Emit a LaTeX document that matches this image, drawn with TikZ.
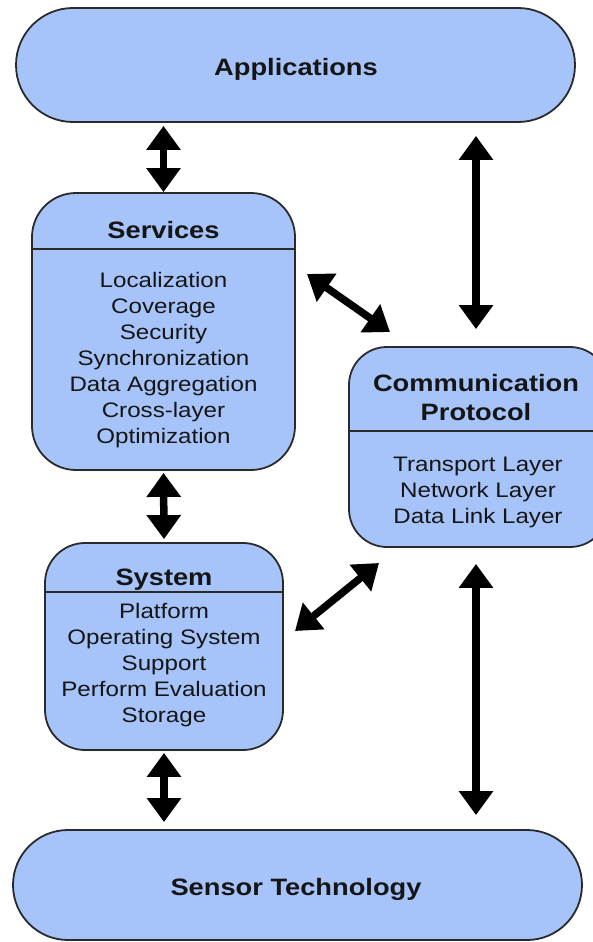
\documentclass[tikz,border=0pt]{standalone}
\usepackage{fontspec}
\setmainfont{Liberation Sans}[FakeStretch=1.15]
\usetikzlibrary{arrows.meta}
\definecolor{boxfill}{HTML}{A6C4FA}
\definecolor{boxline}{HTML}{2A2A2A}
\definecolor{txt}{HTML}{151515}
\tikzset{
  box/.style={draw=boxline, line width=1.8pt, fill=boxfill, inner sep=0pt},
  ttl/.style={anchor=base, inner sep=0pt, text=txt, align=center,
    font=\bfseries\fontsize{23.7}{29}\selectfont},
  itm/.style={anchor=base, inner sep=0pt, text=txt, align=center,
    font=\fontsize{21}{26}\selectfont},
  divider/.style={draw=boxline, line width=1.6pt},
  dbl/.style={line width=7.5pt, draw=black,
    {Triangle[width=33pt,length=24pt]}-{Triangle[width=33pt,length=24pt]}}
}
\begin{document}
\begin{tikzpicture}[x=1pt,y=-1pt]
\useasboundingbox (0,0) rectangle (593,942);
\clip (0,0) rectangle (593,942);
% boxes
\node[box, rounded corners=57pt, minimum width=559pt, minimum height=114pt] (app) at (295.5,65) {};
\node[box, rounded corners=44pt, minimum width=263pt, minimum height=277pt] (svc) at (163.5,331.5) {};
\node[box, rounded corners=38pt, minimum width=259pt, minimum height=200pt] (comm) at (478.5,447) {};
\node[box, rounded corners=40pt, minimum width=238pt, minimum height=207pt] (sys) at (164,646.5) {};
\node[box, rounded corners=55pt, minimum width=569pt, minimum height=110pt] (sen) at (297.5,885) {};
% dividers
\draw[divider] (svc.west |- 0,249) -- (svc.east |- 0,249);
\draw[divider] (comm.west |- 0,431) -- (comm.east |- 0,431);
\draw[divider] (sys.west |- 0,592) -- (sys.east |- 0,592);
% texts (base anchor = baseline of the last line)
\node[ttl] (appt) at (296,76) {Applications};
\node[ttl] (sent) at (296,895) {Sensor Technology};
\node[ttl] (svct) at (163.5,238) {Services};
\node[itm] (svci) at (163.5,443) {Localization\\Coverage\\Security\\Synchronization\\Data Aggregation\\Cross-layer\\Optimization};
\node[ttl] (commt) at (476,420) {Communication\\Protocol};
\node[itm] (commi) at (478,523) {Transport Layer\\Network Layer\\Data Link Layer};
\node[ttl] (syst) at (164,585) {System};
\node[itm] (sysi) at (164,722) {Platform\\Operating System\\Support\\Perform Evaluation\\Storage};
% connectors
\draw[dbl, shorten <=3pt] (svc.north |- app.south) -- (svc.north);
\draw[dbl, shorten <=2pt, shorten >=3pt] (svc.south) -- (sys.north);
\draw[dbl, shorten <=2pt, shorten >=7pt] (sys.south) -- (sys.south |- sen.north);
\draw[dbl, shorten <=13pt, shorten >=17pt] ([xshift=-2.5pt]comm.north |- app.south) -- ([xshift=-2.5pt]comm.north);
\draw[dbl, shorten <=16pt, shorten >=14pt] ([xshift=-2.5pt]comm.south) -- ([xshift=-2.5pt]comm.south |- sen.north);
\coordinate (d1a) at (307,274);
\coordinate (d1b) at (390,332);
\coordinate (d2a) at (295,631);
\coordinate (d2b) at (379,563);
\draw[dbl] (d1a) -- (d1b);
\draw[dbl] (d2a) -- (d2b);
\end{tikzpicture}
\end{document}
